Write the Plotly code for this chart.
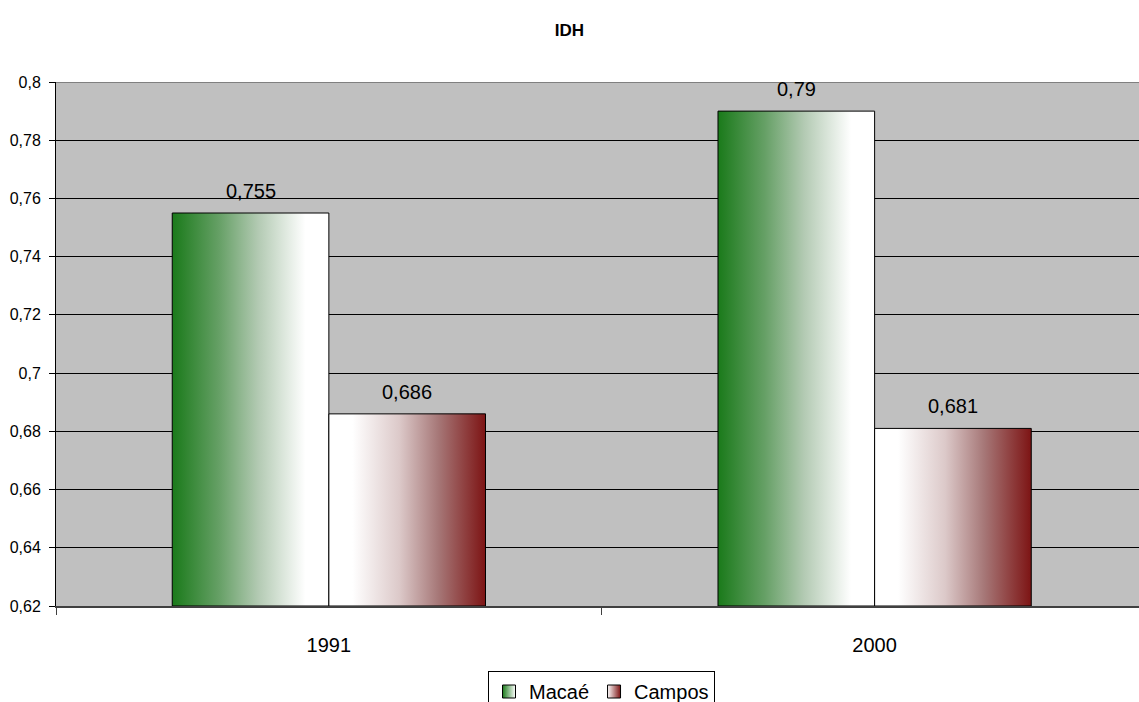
import plotly.graph_objects as go

# IDH values by census year
years = ["1991", "2000"]
macae = [0.755, 0.79]
campos = [0.686, 0.681]

series_names = ["Macaé", "Campos"]
series_values = [macae, campos]
series_scales = [
    [[0, "#1a7a1a"], [0.3, "#66a066"], [0.55, "#b3cab3"], [0.85, "#ffffff"], [1, "#ffffff"]],
    [[0, "#ffffff"], [0.15, "#ffffff"], [0.45, "#dcc9c9"], [0.7, "#a67777"], [1, "#7d1414"]],
]
# legend swatch gradients (start colour, end colour)
swatch_colors = [("#1a7a1a", "#ffffff"), ("#ffffff", "#7d1414")]

y_min, y_max = 0.62, 0.8
bargap = 0.426
bar_w = (1 - bargap) / len(series_names)

fig = go.Figure()

# Bars drawn as closed polygons so each can carry a horizontal gradient
for s, (name, vals, scale) in enumerate(zip(series_names, series_values, series_scales)):
    for i, v in enumerate(vals):
        x0 = i - (1 - bargap) / 2 + s * bar_w
        x1 = x0 + bar_w
        fig.add_trace(go.Scatter(
            x=[x0, x1, x1, x0, x0],
            y=[y_min, y_min, v, v, y_min],
            mode="lines",
            fill="toself",
            fillgradient=dict(type="horizontal", colorscale=scale),
            line=dict(color="black", width=1),
            name=name,
            legendgroup=name,
            showlegend=False,
            hoverinfo="skip",
        ))
        fig.add_annotation(
            x=(x0 + x1) / 2, y=v,
            text=f"{v:g}".replace(".", ","),
            showarrow=False, yanchor="bottom", yshift=9,
            font=dict(size=20, color="black"),
        )

# square gradient swatches for the legend
for name, (c0, c1) in zip(series_names, swatch_colors):
    fig.add_trace(go.Scatter(
        x=[None], y=[None], mode="markers", name=name, legendgroup=name,
        marker=dict(symbol="square", size=13, color=c0,
                    gradient=dict(type="horizontal", color=c1),
                    line=dict(color="black", width=1)),
    ))

# gray frame line along the top of the plot area
fig.add_shape(type="line", xref="paper", yref="y", x0=0, x1=1, y0=y_max, y1=y_max,
              line=dict(color="#808080", width=2))

fig.update_layout(
    width=1139, height=702,
    margin=dict(l=56, r=0, t=82, b=96),
    paper_bgcolor="white",
    plot_bgcolor="#c0c0c0",
    separators=", ",
    font=dict(family="Liberation Sans, Arial, sans-serif", color="black"),
    title=dict(text="<b>IDH</b>", x=0.5, xref="container", xanchor="center",
               y=1 - 30 / 702, yref="container", yanchor="middle",
               font=dict(size=17, color="black")),
    showlegend=True,
    legend=dict(
        orientation="h",
        xref="container", yref="container",
        x=601.5 / 1139, xanchor="center",
        y=1 - 671 / 702, yanchor="top",
        bordercolor="black", borderwidth=1,
        bgcolor="white",
        font=dict(size=20, color="black"),
        itemwidth=30,
        tracegroupgap=0,
        traceorder="normal",
    ),
    xaxis=dict(
        range=[-0.5, 1.5 - 8.5 / 546],
        tickmode="array", tickvals=list(range(len(years))), ticktext=years,
        ticks="", showgrid=False, zeroline=False,
        showline=True, linecolor="#404040", linewidth=2,
        ticklabelstandoff=20,
        tickfont=dict(size=20),
        minor=dict(tickmode="array", tickvals=[-0.5, 0.5, 1.5], ticks="outside",
                   ticklen=7, tickcolor="#404040", tickwidth=1, showgrid=False),
        fixedrange=True,
    ),
    yaxis=dict(
        range=[y_min, y_max], dtick=0.02, tick0=y_min,
        showgrid=True, gridcolor="black", gridwidth=1,
        zeroline=False,
        showline=True, linecolor="black", linewidth=1,
        ticks="outside", ticklen=6, tickcolor="black",
        ticklabelstandoff=5,
        tickfont=dict(size=16),
        fixedrange=True,
    ),
)

fig.write_html("out.html")
